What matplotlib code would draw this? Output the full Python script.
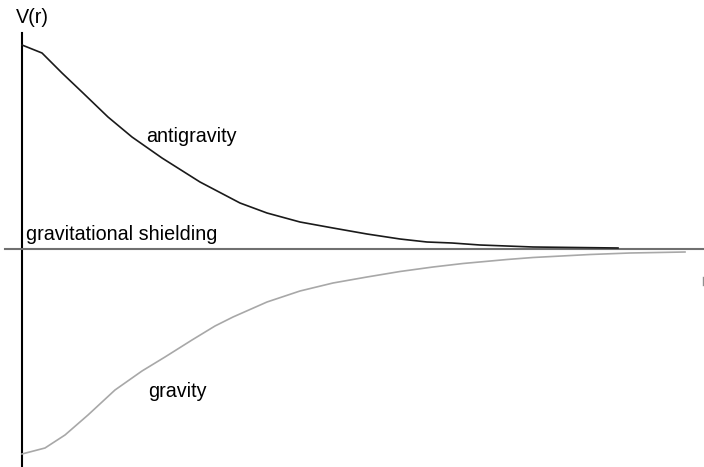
import matplotlib.pyplot as plt

# r and V(r) (arbitrary units, axes cross at 0,0)
r_anti = [0, 20, 40, 60, 86, 110, 140, 178, 218, 245, 278, 311, 345, 378, 405, 430, 458, 511, 596]
v_anti = [204, 196, 176, 157, 132, 112, 91, 67, 46, 36, 27, 21, 15, 10, 7, 6, 4, 2, 1]

r_grav = [0, 23, 43, 66, 93, 120, 143, 170, 193, 211, 245, 278, 311, 345, 378, 411, 441, 485, 511, 568, 608, 663]
v_grav = [-205, -199, -186, -166, -141, -122, -108, -91, -77, -68, -53, -42, -34, -28, -22.5, -18, -14.5, -10.5, -8.5, -5.5, -4, -3]

plt.rcParams['font.family'] = ['Liberation Sans', 'DejaVu Sans']

fig = plt.figure(figsize=(7.04, 4.67), dpi=100)
ax = fig.add_axes([0, 0, 1, 1])
ax.set_xlim(-22, 682)
ax.set_ylim(-218, 249)
ax.axis('off')

# axes lines
ax.plot([0, 0], [-218, 216], color='black', lw=1.5)
ax.plot([-17, 681], [0, 0], color='#707070', lw=1.5)
ax.plot([681, 681], [-28, -36], color='#909090', lw=1)

ax.plot(r_anti, v_anti, color='#1a1a1a', lw=1.2)
ax.plot(r_grav, v_grav, color='#a8a8a8', lw=1.2)

fs = 14.2
ax.text(-6, 226, 'V(r)', fontsize=fs, va='baseline')
ax.text(124, 107, 'antigravity', fontsize=fs, va='baseline')
ax.text(4, 9, 'gravitational shielding', fontsize=fs, va='baseline')
ax.text(126, -148, 'gravity', fontsize=fs, va='baseline')

fig.savefig('out.png', dpi=100)
